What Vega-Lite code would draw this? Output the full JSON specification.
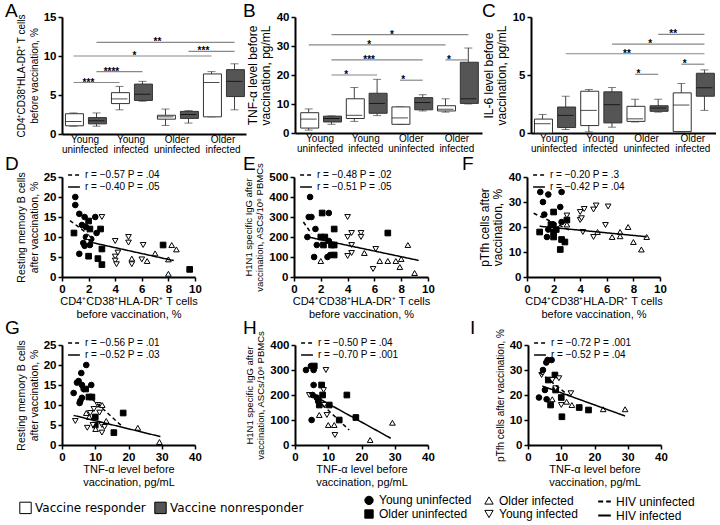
{
"$schema": "https://vega.github.io/schema/vega-lite/v6.json",
"padding": {"left": 5, "top": 2, "right": 0, "bottom": 0},
"background": "white",
"spacing": 0,
"resolve": {"scale": {"color": "independent", "fill": "independent", "shape": "independent", "strokeDash": "independent", "x": "independent", "y": "independent"}, "legend": {"color": "independent", "fill": "independent", "shape": "independent", "strokeDash": "independent"}},
"config": {
  "view": {"stroke": null},
  "font": "Liberation Sans",
  "axis": {"domainColor": "black", "domainWidth": 2, "tickColor": "black", "tickWidth": 1.5, "tickSize": 4, "labelColor": "black", "labelFontSize": 11.5, "labelFontWeight": "bold", "labelFont": "Liberation Sans", "titleFont": "Liberation Sans", "titleFontWeight": "normal", "titleFontSize": 11, "titleColor": "black", "grid": false, "labelPadding": 2, "titlePadding": 4, "labelFlush": false, "labelOverlap": false},
  "axisX": {"titlePadding": 1, "titleLineHeight": 12.5},
  "axisY": {"titleLineHeight": 12.5},
  "title": {"fontSize": 19, "fontWeight": "normal", "anchor": "start", "frame": "group", "font": "Liberation Sans", "color": "black", "offset": 0},
  "legend": {"padding": 0, "labelFont": "Liberation Sans", "labelFontSize": 10, "labelColor": "black", "labelFontWeight": "normal", "rowPadding": 0, "symbolStrokeWidth": 1.5, "symbolSize": 140, "symbolStrokeColor": "black", "symbolOpacity": 1}
},
"datasets": {
  "boxA": [
    {"cat": "Young uninfected R", "resp": "Vaccine responder", "min": 1.0, "q1": 1.05, "med": 1.6, "q3": 2.6, "max": 2.7},
    {"cat": "Young uninfected NR", "resp": "Vaccine nonresponder", "min": 1.0, "q1": 1.3, "med": 1.7, "q3": 2.1, "max": 2.7},
    {"cat": "Young infected R", "resp": "Vaccine responder", "min": 3.1, "q1": 3.9, "med": 4.5, "q3": 5.3, "max": 6.1},
    {"cat": "Young infected NR", "resp": "Vaccine nonresponder", "min": 4.2, "q1": 4.3, "med": 5.1, "q3": 6.4, "max": 6.75},
    {"cat": "Older uninfected R", "resp": "Vaccine responder", "min": 1.1, "q1": 1.9, "med": 2.2, "q3": 2.4, "max": 3.2},
    {"cat": "Older uninfected NR", "resp": "Vaccine nonresponder", "min": 1.4, "q1": 2.0, "med": 2.5, "q3": 2.9, "max": 3.0},
    {"cat": "Older infected R", "resp": "Vaccine responder", "min": 2.2, "q1": 2.2, "med": 6.6, "q3": 7.7, "max": 8.0},
    {"cat": "Older infected NR", "resp": "Vaccine nonresponder", "min": 3.1, "q1": 4.8, "med": 6.75, "q3": 8.25, "max": 9.0}
  ],
  "boxB": [
    {"cat": "Young uninfected R", "resp": "Vaccine responder", "min": 1.0, "q1": 1.7, "med": 4.8, "q3": 7.0, "max": 8.3},
    {"cat": "Young uninfected NR", "resp": "Vaccine nonresponder", "min": 3.0, "q1": 3.8, "med": 5.0, "q3": 5.8, "max": 5.9},
    {"cat": "Young infected R", "resp": "Vaccine responder", "min": 4.0, "q1": 5.0, "med": 6.1, "q3": 11.8, "max": 15.7},
    {"cat": "Young infected NR", "resp": "Vaccine nonresponder", "min": 6.0, "q1": 6.8, "med": 10.2, "q3": 13.7, "max": 18.5},
    {"cat": "Older uninfected R", "resp": "Vaccine responder", "min": 3.0, "q1": 3.0, "med": 5.2, "q3": 9.0, "max": 9.0},
    {"cat": "Older uninfected NR", "resp": "Vaccine nonresponder", "min": 7.6, "q1": 8.0, "med": 10.5, "q3": 12.2, "max": 13.2},
    {"cat": "Older infected R", "resp": "Vaccine responder", "min": 7.2, "q1": 7.6, "med": 8.2, "q3": 9.4, "max": 11.8},
    {"cat": "Older infected NR", "resp": "Vaccine nonresponder", "min": 10.0, "q1": 10.2, "med": 11.8, "q3": 24.4, "max": 29.3}
  ],
  "boxC": [
    {"cat": "Young uninfected R", "resp": "Vaccine responder", "min": 0.0, "q1": 0.0, "med": 0.8, "q3": 1.2, "max": 1.6},
    {"cat": "Young uninfected NR", "resp": "Vaccine nonresponder", "min": 0.3, "q1": 0.47, "med": 1.52, "q3": 2.24, "max": 3.17},
    {"cat": "Young infected R", "resp": "Vaccine responder", "min": 0.1, "q1": 0.64, "med": 1.95, "q3": 3.6, "max": 3.75},
    {"cat": "Young infected NR", "resp": "Vaccine nonresponder", "min": 0.5, "q1": 0.87, "med": 2.44, "q3": 3.55, "max": 3.92},
    {"cat": "Older uninfected R", "resp": "Vaccine responder", "min": 0.95, "q1": 1.0, "med": 1.22, "q3": 2.3, "max": 2.91},
    {"cat": "Older uninfected NR", "resp": "Vaccine nonresponder", "min": 1.8, "q1": 1.87, "med": 2.15, "q3": 2.35, "max": 2.91},
    {"cat": "Older infected R", "resp": "Vaccine responder", "min": 0.1, "q1": 0.12, "med": 2.41, "q3": 3.46, "max": 4.27},
    {"cat": "Older infected NR", "resp": "Vaccine nonresponder", "min": 1.95, "q1": 3.17, "med": 3.9, "q3": 5.15, "max": 5.44}
  ],
  "sigA": [
    {"from": "Young uninfected R", "to": "Young infected R", "span": 2, "y": 6.6, "star": "***"},
    {"from": "Young uninfected NR", "to": "Young infected NR", "span": 2, "y": 8.0, "star": "****"},
    {"from": "Young uninfected R", "to": "Older infected R", "span": 6, "y": 10.0, "star": "*"},
    {"from": "Young uninfected NR", "to": "Older infected NR", "span": 6, "y": 11.75, "star": "**"},
    {"from": "Older uninfected NR", "to": "Older infected NR", "span": 2, "y": 10.6, "star": "***"}
  ],
  "sigB": [
    {"from": "Young uninfected NR", "to": "Older infected NR", "span": 6, "y": 33.9, "star": "*"},
    {"from": "Young uninfected R", "to": "Older infected R", "span": 6, "y": 30.4, "star": "*"},
    {"from": "Young uninfected NR", "to": "Older uninfected NR", "span": 4, "y": 25.2, "star": "***"},
    {"from": "Young uninfected NR", "to": "Young infected NR", "span": 2, "y": 20.0, "star": "*"},
    {"from": "Older uninfected R", "to": "Older uninfected NR", "span": 1, "y": 18.2, "star": "*"},
    {"from": "Older infected R", "to": "Older infected NR", "span": 1, "y": 25.2, "star": "*"}
  ],
  "sigC": [
    {"from": "Older uninfected NR", "to": "Older infected NR", "span": 2, "y": 8.5, "star": "**"},
    {"from": "Young infected NR", "to": "Older infected NR", "span": 4, "y": 7.67, "star": "*"},
    {"from": "Young uninfected NR", "to": "Older infected NR", "span": 6, "y": 6.83, "star": "**"},
    {"from": "Older uninfected R", "to": "Older uninfected NR", "span": 1, "y": 5.06, "star": "*"},
    {"from": "Older infected R", "to": "Older infected NR", "span": 1, "y": 5.93, "star": "*"}
  ],
  "ptD": [
    {"x": 1.0, "y": 20, "g": "Young uninfected"}, {"x": 1.0, "y": 18, "g": "Young uninfected"}, {"x": 1.3, "y": 15.8, "g": "Young uninfected"}, {"x": 1.7, "y": 15, "g": "Young uninfected"}, {"x": 1.5, "y": 13, "g": "Young uninfected"}, {"x": 1.8, "y": 12.5, "g": "Young uninfected"}, {"x": 2.5, "y": 15, "g": "Young uninfected"}, {"x": 2.6, "y": 11, "g": "Young uninfected"}, {"x": 1.8, "y": 10, "g": "Young uninfected"}, {"x": 1.6, "y": 8.5, "g": "Young uninfected"}, {"x": 1.7, "y": 7.8, "g": "Young uninfected"}, {"x": 2.1, "y": 8, "g": "Young uninfected"}, {"x": 1.3, "y": 5.8, "g": "Young uninfected"}, {"x": 2.2, "y": 9.5, "g": "Young uninfected"},
    {"x": 0.9, "y": 11, "g": "Older uninfected"}, {"x": 2.0, "y": 14, "g": "Older uninfected"}, {"x": 2.1, "y": 12, "g": "Older uninfected"}, {"x": 2.9, "y": 12, "g": "Older uninfected"}, {"x": 3.0, "y": 7, "g": "Older uninfected"}, {"x": 2.0, "y": 5.2, "g": "Older uninfected"}, {"x": 2.7, "y": 4.6, "g": "Older uninfected"}, {"x": 3.0, "y": 3.1, "g": "Older uninfected"}, {"x": 7.6, "y": 8, "g": "Older uninfected"}, {"x": 9.6, "y": 1.9, "g": "Older uninfected"},
    {"x": 3.0, "y": 15, "g": "Young infected"}, {"x": 4.0, "y": 9, "g": "Young infected"}, {"x": 5.0, "y": 10, "g": "Young infected"}, {"x": 5.0, "y": 8.6, "g": "Young infected"}, {"x": 6.1, "y": 8, "g": "Young infected"}, {"x": 4.0, "y": 5.1, "g": "Young infected"}, {"x": 4.2, "y": 6.1, "g": "Young infected"}, {"x": 4.0, "y": 4.1, "g": "Young infected"}, {"x": 4.1, "y": 3.2, "g": "Young infected"}, {"x": 5.25, "y": 3.2, "g": "Young infected"}, {"x": 6.0, "y": 4.4, "g": "Young infected"},
    {"x": 2.0, "y": 10, "g": "Older infected"}, {"x": 5.25, "y": 4.6, "g": "Older infected"}, {"x": 6.4, "y": 4, "g": "Older infected"}, {"x": 7.0, "y": 5.9, "g": "Older infected"}, {"x": 8.25, "y": 8, "g": "Older infected"}, {"x": 8.6, "y": 6.9, "g": "Older infected"}, {"x": 8.0, "y": 4.4, "g": "Older infected"}, {"x": 8.0, "y": 0.8, "g": "Older infected"}
  ],
  "lnD": [
    {"x": 0.6, "y": 14.1, "hiv": "HIV uninfected"}, {"x": 1.9, "y": 10.9, "hiv": "HIV uninfected"},
    {"x": 2.0, "y": 8.8, "hiv": "HIV infected"}, {"x": 8.4, "y": 4.1, "hiv": "HIV infected"}
  ],
  "ptE": [
    {"x": 1.2, "y": 400, "g": "Young uninfected"}, {"x": 1.1, "y": 300, "g": "Young uninfected"}, {"x": 1.3, "y": 300, "g": "Young uninfected"}, {"x": 1.0, "y": 200, "g": "Young uninfected"}, {"x": 1.6, "y": 240, "g": "Young uninfected"}, {"x": 1.5, "y": 100, "g": "Young uninfected"}, {"x": 1.7, "y": 160, "g": "Young uninfected"}, {"x": 2.6, "y": 320, "g": "Young uninfected"}, {"x": 2.6, "y": 180, "g": "Young uninfected"}, {"x": 2.5, "y": 100, "g": "Young uninfected"}, {"x": 2.7, "y": 110, "g": "Young uninfected"},
    {"x": 2.1, "y": 320, "g": "Older uninfected"}, {"x": 2.0, "y": 200, "g": "Older uninfected"}, {"x": 2.3, "y": 200, "g": "Older uninfected"}, {"x": 3.0, "y": 240, "g": "Older uninfected"}, {"x": 2.8, "y": 160, "g": "Older uninfected"}, {"x": 3.0, "y": 160, "g": "Older uninfected"}, {"x": 3.0, "y": 110, "g": "Older uninfected"}, {"x": 7.0, "y": 220, "g": "Older uninfected"}, {"x": 2.2, "y": 160, "g": "Older uninfected"},
    {"x": 4.0, "y": 300, "g": "Young infected"}, {"x": 4.0, "y": 200, "g": "Young infected"}, {"x": 4.3, "y": 220, "g": "Young infected"}, {"x": 5.0, "y": 220, "g": "Young infected"}, {"x": 5.0, "y": 200, "g": "Young infected"}, {"x": 4.3, "y": 160, "g": "Young infected"}, {"x": 4.3, "y": 120, "g": "Young infected"}, {"x": 4.0, "y": 105, "g": "Young infected"}, {"x": 6.1, "y": 140, "g": "Young infected"}, {"x": 5.9, "y": 40, "g": "Young infected"},
    {"x": 2.0, "y": 80, "g": "Older infected"}, {"x": 5.25, "y": 120, "g": "Older infected"}, {"x": 6.4, "y": 80, "g": "Older infected"}, {"x": 7.0, "y": 80, "g": "Older infected"}, {"x": 7.6, "y": 80, "g": "Older infected"}, {"x": 8.0, "y": 90, "g": "Older infected"}, {"x": 7.9, "y": 50, "g": "Older infected"}, {"x": 8.5, "y": 160, "g": "Older infected"}, {"x": 9.0, "y": 20, "g": "Older infected"}
  ],
  "lnE": [
    {"x": 0.7, "y": 275, "hiv": "HIV uninfected"}, {"x": 1.3, "y": 217, "hiv": "HIV uninfected"},
    {"x": 1.05, "y": 200, "hiv": "HIV infected"}, {"x": 9.3, "y": 83, "hiv": "HIV infected"}
  ],
  "ptF": [
    {"x": 1.0, "y": 34, "g": "Young uninfected"}, {"x": 1.2, "y": 30, "g": "Young uninfected"}, {"x": 1.6, "y": 33, "g": "Young uninfected"}, {"x": 2.6, "y": 34, "g": "Young uninfected"}, {"x": 2.5, "y": 28, "g": "Young uninfected"}, {"x": 1.3, "y": 25, "g": "Young uninfected"}, {"x": 1.6, "y": 19, "g": "Young uninfected"}, {"x": 1.5, "y": 16, "g": "Young uninfected"}, {"x": 2.0, "y": 21, "g": "Young uninfected"}, {"x": 2.6, "y": 22, "g": "Young uninfected"},
    {"x": 0.95, "y": 18, "g": "Older uninfected"}, {"x": 2.0, "y": 26, "g": "Older uninfected"}, {"x": 1.8, "y": 21, "g": "Older uninfected"}, {"x": 2.0, "y": 18, "g": "Older uninfected"}, {"x": 2.0, "y": 16, "g": "Older uninfected"}, {"x": 2.2, "y": 19, "g": "Older uninfected"}, {"x": 2.6, "y": 15, "g": "Older uninfected"}, {"x": 2.85, "y": 14, "g": "Older uninfected"}, {"x": 2.5, "y": 11, "g": "Older uninfected"}, {"x": 3.0, "y": 22.8, "g": "Older uninfected"},
    {"x": 3.0, "y": 24.6, "g": "Young infected"}, {"x": 4.0, "y": 26, "g": "Young infected"}, {"x": 4.3, "y": 27.2, "g": "Young infected"}, {"x": 4.0, "y": 22.8, "g": "Young infected"}, {"x": 4.1, "y": 23.5, "g": "Young infected"}, {"x": 5.0, "y": 27, "g": "Young infected"}, {"x": 5.2, "y": 28.6, "g": "Young infected"}, {"x": 6.1, "y": 28.2, "g": "Young infected"}, {"x": 5.9, "y": 20.8, "g": "Young infected"}, {"x": 4.2, "y": 18, "g": "Young infected"}, {"x": 5.0, "y": 16, "g": "Young infected"},
    {"x": 3.0, "y": 21, "g": "Older infected"}, {"x": 5.3, "y": 18, "g": "Older infected"}, {"x": 6.4, "y": 16, "g": "Older infected"}, {"x": 7.0, "y": 18, "g": "Older infected"}, {"x": 7.0, "y": 16.3, "g": "Older infected"}, {"x": 7.6, "y": 20, "g": "Older infected"}, {"x": 8.0, "y": 14, "g": "Older infected"}, {"x": 8.6, "y": 11, "g": "Older infected"}, {"x": 9.0, "y": 16, "g": "Older infected"}
  ],
  "lnF": [
    {"x": 0.5, "y": 25.5, "hiv": "HIV uninfected"}, {"x": 3.3, "y": 18.5, "hiv": "HIV uninfected"},
    {"x": 0.95, "y": 20.3, "hiv": "HIV infected"}, {"x": 9.0, "y": 16.1, "hiv": "HIV infected"}
  ],
  "ptG": [
    {"x": 3.5, "y": 13, "g": "Young uninfected"}, {"x": 4.5, "y": 15.6, "g": "Young uninfected"}, {"x": 5.0, "y": 16, "g": "Young uninfected"}, {"x": 5.8, "y": 18, "g": "Young uninfected"}, {"x": 7.3, "y": 20, "g": "Young uninfected"}, {"x": 6.0, "y": 15, "g": "Young uninfected"}, {"x": 5.5, "y": 11, "g": "Young uninfected"}, {"x": 6.0, "y": 11.8, "g": "Young uninfected"}, {"x": 5.3, "y": 10.5, "g": "Young uninfected"}, {"x": 8.8, "y": 15, "g": "Young uninfected"}, {"x": 6.5, "y": 14, "g": "Young uninfected"},
    {"x": 7.1, "y": 14, "g": "Older uninfected"}, {"x": 8.1, "y": 12, "g": "Older uninfected"}, {"x": 9.0, "y": 12, "g": "Older uninfected"}, {"x": 10, "y": 7, "g": "Older uninfected"}, {"x": 10, "y": 5, "g": "Older uninfected"}, {"x": 15.6, "y": 3.1, "g": "Older uninfected"}, {"x": 18.4, "y": 8, "g": "Older uninfected"},
    {"x": 4.0, "y": 6, "g": "Young infected"}, {"x": 7.6, "y": 4.3, "g": "Young infected"}, {"x": 9.6, "y": 9, "g": "Young infected"}, {"x": 10.8, "y": 10, "g": "Young infected"}, {"x": 11.3, "y": 8.1, "g": "Young infected"}, {"x": 12, "y": 3.1, "g": "Young infected"}, {"x": 12, "y": 5, "g": "Young infected"}, {"x": 12.8, "y": 4.5, "g": "Young infected"}, {"x": 9.3, "y": 5, "g": "Young infected"}, {"x": 8.5, "y": 8, "g": "Young infected"},
    {"x": 7.3, "y": 8, "g": "Older infected"}, {"x": 8.2, "y": 7, "g": "Older infected"}, {"x": 10.1, "y": 4, "g": "Older infected"}, {"x": 12.1, "y": 10, "g": "Older infected"}, {"x": 13.3, "y": 6, "g": "Older infected"}, {"x": 22.8, "y": 4.3, "g": "Older infected"}, {"x": 29.3, "y": 0.75, "g": "Older infected"}
  ],
  "lnG": [
    {"x": 9.0, "y": 11.5, "hiv": "HIV uninfected"}, {"x": 17.8, "y": 4.9, "hiv": "HIV uninfected"},
    {"x": 3.5, "y": 7.4, "hiv": "HIV infected"}, {"x": 29.6, "y": 2.1, "hiv": "HIV infected"}
  ],
  "ptH": [
    {"x": 3.3, "y": 300, "g": "Young uninfected"}, {"x": 4.8, "y": 316, "g": "Young uninfected"}, {"x": 5.6, "y": 300, "g": "Young uninfected"}, {"x": 5.6, "y": 240, "g": "Young uninfected"}, {"x": 5.3, "y": 200, "g": "Young uninfected"}, {"x": 5.0, "y": 100, "g": "Young uninfected"}, {"x": 6.5, "y": 190, "g": "Young uninfected"},
    {"x": 5.8, "y": 316, "g": "Older uninfected"}, {"x": 8.0, "y": 240, "g": "Older uninfected"}, {"x": 8.3, "y": 200, "g": "Older uninfected"}, {"x": 7.3, "y": 160, "g": "Older uninfected"}, {"x": 7.0, "y": 180, "g": "Older uninfected"}, {"x": 10.3, "y": 160, "g": "Older uninfected"}, {"x": 13.3, "y": 100, "g": "Older uninfected"}, {"x": 15.6, "y": 200, "g": "Older uninfected"}, {"x": 18.3, "y": 110, "g": "Older uninfected"},
    {"x": 4.3, "y": 200, "g": "Young infected"}, {"x": 9.3, "y": 300, "g": "Young infected"}, {"x": 8.6, "y": 220, "g": "Young infected"}, {"x": 9.6, "y": 120, "g": "Young infected"}, {"x": 12.0, "y": 40, "g": "Young infected"}, {"x": 8.8, "y": 160, "g": "Young infected"},
    {"x": 7.3, "y": 120, "g": "Older infected"}, {"x": 10.0, "y": 80, "g": "Older infected"}, {"x": 11.8, "y": 80, "g": "Older infected"}, {"x": 22.6, "y": 20, "g": "Older infected"}, {"x": 29.3, "y": 89, "g": "Older infected"}
  ],
  "lnH": [
    {"x": 8.3, "y": 160, "hiv": "HIV uninfected"}, {"x": 16.3, "y": 60, "hiv": "HIV uninfected"},
    {"x": 4.3, "y": 207, "hiv": "HIV infected"}, {"x": 28.8, "y": 27, "hiv": "HIV infected"}
  ],
  "ptI": [
    {"x": 3.3, "y": 19, "g": "Young uninfected"}, {"x": 4.5, "y": 30, "g": "Young uninfected"}, {"x": 5.5, "y": 33, "g": "Young uninfected"}, {"x": 5.9, "y": 34, "g": "Young uninfected"}, {"x": 7.1, "y": 34, "g": "Young uninfected"}, {"x": 5.1, "y": 22, "g": "Young uninfected"}, {"x": 5.6, "y": 18.3, "g": "Young uninfected"},
    {"x": 6.1, "y": 26, "g": "Older uninfected"}, {"x": 8.1, "y": 28, "g": "Older uninfected"}, {"x": 8.3, "y": 22, "g": "Older uninfected"}, {"x": 6.8, "y": 16, "g": "Older uninfected"}, {"x": 10.0, "y": 19, "g": "Older uninfected"}, {"x": 10.2, "y": 11.3, "g": "Older uninfected"}, {"x": 15.4, "y": 15, "g": "Older uninfected"}, {"x": 18.2, "y": 14, "g": "Older uninfected"},
    {"x": 4.1, "y": 28, "g": "Young infected"}, {"x": 7.3, "y": 26, "g": "Young infected"}, {"x": 9.3, "y": 26.7, "g": "Young infected"}, {"x": 8.3, "y": 22.7, "g": "Young infected"}, {"x": 10.0, "y": 16, "g": "Young infected"}, {"x": 12.9, "y": 20.7, "g": "Young infected"},
    {"x": 7.3, "y": 18.3, "g": "Older infected"}, {"x": 11.6, "y": 17.3, "g": "Older infected"}, {"x": 13.2, "y": 16, "g": "Older infected"}, {"x": 22.6, "y": 14.3, "g": "Older infected"}, {"x": 29.2, "y": 14.3, "g": "Older infected"}
  ],
  "lnI": [
    {"x": 3.5, "y": 29, "hiv": "HIV uninfected"}, {"x": 12.5, "y": 19.5, "hiv": "HIV uninfected"},
    {"x": 4.3, "y": 23.6, "hiv": "HIV infected"}, {"x": 29.2, "y": 11.6, "hiv": "HIV infected"}
  ],
  "leg": [
    {"resp": "Vaccine responder", "g": "Young uninfected", "hiv": "HIV uninfected"},
    {"resp": "Vaccine nonresponder", "g": "Older uninfected", "hiv": "HIV infected"},
    {"resp": "Vaccine responder", "g": "Older infected", "hiv": "HIV uninfected"},
    {"resp": "Vaccine nonresponder", "g": "Young infected", "hiv": "HIV infected"}
  ]
},
"vconcat": [
  {"hconcat": [
    {"width": 184, "height": 117, "title": {"text": "A", "dx": -57, "dy": 14},
     "data": {"name": "boxA"},
     "layer": [
      {"mark": {"type": "rule", "color": "#444", "strokeWidth": 1},
       "encoding": {"x": {"field": "cat", "type": "nominal", "scale": {"domain": ["Young uninfected R", "Young uninfected NR", "Young infected R", "Young infected NR", "Older uninfected R", "Older uninfected NR", "Older infected R", "Older infected NR"], "paddingInner": 0.3, "paddingOuter": 0.15}, "axis": {"title": null, "ticks": false, "tickSize": 0, "labelAngle": 0, "labelFontWeight": "normal", "labelFontSize": 10, "labelOffset": 11.5, "labelPadding": 0, "labelLineHeight": 10.5, "labelBound": false, "labelOverlap": false, "labelExpr": "indexof(datum.value,'NR')>=0 ? '' : split(slice(datum.value,0,-2),' ')"}},
        "y": {"field": "min", "type": "quantitative", "scale": {"domain": [0, 15], "nice": false}, "axis": {"values": [0, 5, 10, 15], "tickCount": 20, "format": "d", "labelOverlap": false, "titleFontSize": 10, "title": ["CD4⁺CD38⁺HLA-DR⁺ T cells", "before vaccination, %"]}},
        "y2": {"field": "max"}}},
      {"mark": {"type": "tick", "color": "#444", "size": 8, "thickness": 1}, "encoding": {"x": {"field": "cat", "type": "nominal"}, "y": {"field": "min", "type": "quantitative"}}},
      {"mark": {"type": "tick", "color": "#444", "size": 8, "thickness": 1}, "encoding": {"x": {"field": "cat", "type": "nominal"}, "y": {"field": "max", "type": "quantitative"}}},
      {"mark": {"type": "bar", "stroke": "#333", "strokeWidth": 1}, "encoding": {"x": {"field": "cat", "type": "nominal"}, "y": {"field": "q1", "type": "quantitative"}, "y2": {"field": "q3"}, "fill": {"field": "resp", "type": "nominal", "scale": {"domain": ["Vaccine responder", "Vaccine nonresponder"], "range": ["white", "#555"]}, "legend": null}}},
      {"mark": {"type": "tick", "color": "black", "size": 16, "thickness": 1}, "encoding": {"x": {"field": "cat", "type": "nominal"}, "y": {"field": "med", "type": "quantitative"}}},
      {"data": {"name": "sigA"}, "mark": {"type": "rule", "color": "#888", "strokeWidth": 1.2}, "encoding": {"x": {"field": "from", "type": "nominal"}, "x2": {"field": "to"}, "y": {"field": "y", "type": "quantitative"}}},
      {"data": {"name": "sigA"}, "mark": {"type": "text", "fontSize": 10, "fontWeight": "bold", "baseline": "alphabetic", "dy": 3}, "encoding": {"x": {"field": "from", "type": "nominal"}, "xOffset": {"field": "span", "type": "quantitative", "scale": {"domain": [0, 8], "range": [0, 92]}}, "y": {"field": "y", "type": "quantitative"}, "text": {"field": "star"}}}
     ]},
    {"width": 187, "height": 116, "title": {"text": "B", "dx": -52, "dy": 14},
     "data": {"name": "boxB"},
     "layer": [
      {"mark": {"type": "rule", "color": "#444", "strokeWidth": 1},
       "encoding": {"x": {"field": "cat", "type": "nominal", "scale": {"domain": ["Young uninfected R", "Young uninfected NR", "Young infected R", "Young infected NR", "Older uninfected R", "Older uninfected NR", "Older infected R", "Older infected NR"], "paddingInner": 0.3, "paddingOuter": 0.25}, "axis": {"title": null, "ticks": false, "tickSize": 0, "labelAngle": 0, "labelFontWeight": "normal", "labelFontSize": 10, "labelOffset": 11.4, "labelPadding": 0, "labelLineHeight": 10.5, "labelBound": false, "labelOverlap": false, "labelExpr": "indexof(datum.value,'NR')>=0 ? '' : split(slice(datum.value,0,-2),' ')"}},
        "y": {"field": "min", "type": "quantitative", "scale": {"domain": [0, 40], "nice": false}, "axis": {"values": [0, 10, 20, 30, 40], "tickCount": 20, "format": "d", "labelOverlap": false, "titleFontSize": 12, "title": ["TNF-α level before", "vaccination, pg/mL"]}},
        "y2": {"field": "max"}}},
      {"mark": {"type": "tick", "color": "#444", "size": 8, "thickness": 1}, "encoding": {"x": {"field": "cat", "type": "nominal"}, "y": {"field": "min", "type": "quantitative"}}},
      {"mark": {"type": "tick", "color": "#444", "size": 8, "thickness": 1}, "encoding": {"x": {"field": "cat", "type": "nominal"}, "y": {"field": "max", "type": "quantitative"}}},
      {"mark": {"type": "bar", "stroke": "#333", "strokeWidth": 1}, "encoding": {"x": {"field": "cat", "type": "nominal"}, "y": {"field": "q1", "type": "quantitative"}, "y2": {"field": "q3"}, "fill": {"field": "resp", "type": "nominal", "scale": {"domain": ["Vaccine responder", "Vaccine nonresponder"], "range": ["white", "#555"]}, "legend": null}}},
      {"mark": {"type": "tick", "color": "black", "size": 16, "thickness": 1}, "encoding": {"x": {"field": "cat", "type": "nominal"}, "y": {"field": "med", "type": "quantitative"}}},
      {"data": {"name": "sigB"}, "mark": {"type": "rule", "color": "#888", "strokeWidth": 1.2}, "encoding": {"x": {"field": "from", "type": "nominal"}, "x2": {"field": "to"}, "y": {"field": "y", "type": "quantitative"}}},
      {"data": {"name": "sigB"}, "mark": {"type": "text", "fontSize": 10, "fontWeight": "bold", "baseline": "alphabetic", "dy": 3}, "encoding": {"x": {"field": "from", "type": "nominal"}, "xOffset": {"field": "span", "type": "quantitative", "scale": {"domain": [0, 8], "range": [0, 91.2]}}, "y": {"field": "y", "type": "quantitative"}, "text": {"field": "star"}}}
     ]},
    {"width": 185, "height": 116, "title": {"text": "C", "dx": -49, "dy": 14},
     "data": {"name": "boxC"},
     "layer": [
      {"mark": {"type": "rule", "color": "#444", "strokeWidth": 1},
       "encoding": {"x": {"field": "cat", "type": "nominal", "scale": {"domain": ["Young uninfected R", "Young uninfected NR", "Young infected R", "Young infected NR", "Older uninfected R", "Older uninfected NR", "Older infected R", "Older infected NR"], "paddingInner": 0.3, "paddingOuter": 0.15}, "axis": {"title": null, "ticks": false, "tickSize": 0, "labelAngle": 0, "labelFontWeight": "normal", "labelFontSize": 10, "labelOffset": 11.5, "labelPadding": 0, "labelLineHeight": 10.5, "labelBound": false, "labelOverlap": false, "labelExpr": "indexof(datum.value,'NR')>=0 ? '' : split(slice(datum.value,0,-2),' ')"}},
        "y": {"field": "min", "type": "quantitative", "scale": {"domain": [0, 10], "nice": false}, "axis": {"values": [0, 5, 10], "tickCount": 20, "format": "d", "labelOverlap": false, "titleFontSize": 12, "title": ["IL-6 level before", "vaccination, pg/mL"]}},
        "y2": {"field": "max"}}},
      {"mark": {"type": "tick", "color": "#444", "size": 8, "thickness": 1}, "encoding": {"x": {"field": "cat", "type": "nominal"}, "y": {"field": "min", "type": "quantitative"}}},
      {"mark": {"type": "tick", "color": "#444", "size": 8, "thickness": 1}, "encoding": {"x": {"field": "cat", "type": "nominal"}, "y": {"field": "max", "type": "quantitative"}}},
      {"mark": {"type": "bar", "stroke": "#333", "strokeWidth": 1}, "encoding": {"x": {"field": "cat", "type": "nominal"}, "y": {"field": "q1", "type": "quantitative"}, "y2": {"field": "q3"}, "fill": {"field": "resp", "type": "nominal", "scale": {"domain": ["Vaccine responder", "Vaccine nonresponder"], "range": ["white", "#555"]}, "legend": null}}},
      {"mark": {"type": "tick", "color": "black", "size": 16, "thickness": 1}, "encoding": {"x": {"field": "cat", "type": "nominal"}, "y": {"field": "med", "type": "quantitative"}}},
      {"data": {"name": "sigC"}, "mark": {"type": "rule", "color": "#888", "strokeWidth": 1.2}, "encoding": {"x": {"field": "from", "type": "nominal"}, "x2": {"field": "to"}, "y": {"field": "y", "type": "quantitative"}}},
      {"data": {"name": "sigC"}, "mark": {"type": "text", "fontSize": 10, "fontWeight": "bold", "baseline": "alphabetic", "dy": 3}, "encoding": {"x": {"field": "from", "type": "nominal"}, "xOffset": {"field": "span", "type": "quantitative", "scale": {"domain": [0, 8], "range": [0, 92.5]}}, "y": {"field": "y", "type": "quantitative"}, "text": {"field": "star"}}}
     ]}
  ], "spacing": 49, "bounds": "flush",
  "resolve": {"scale": {"fill": "independent", "x": "independent", "y": "independent", "xOffset": "independent"}, "legend": {"fill": "independent"}}},
  {"hconcat": [
    {"width": 133, "height": 100, "title": {"text": "D", "dx": -57, "dy": 10},
     "layer": [
      {"data": {"name": "ptD"}, "mark": {"type": "point", "stroke": "black", "strokeWidth": 1, "size": 32, "fillOpacity": 1, "opacity": 1},
       "encoding": {"x": {"field": "x", "type": "quantitative", "scale": {"domain": [0, 10], "nice": false}, "axis": {"values": [0, 2, 4, 6, 8, 10], "tickCount": 20, "format": "d", "labelOverlap": false, "title": ["CD4⁺CD38⁺HLA-DR⁺ T cells", "before vaccination, %"]}},
        "y": {"field": "y", "type": "quantitative", "scale": {"domain": [0, 25], "nice": false}, "axis": {"values": [0, 5, 10, 15, 20, 25], "tickCount": 20, "format": "d", "labelOverlap": false, "titleFontSize": 10.5, "title": ["Resting memory B cells", "after vaccination, %"]}},
        "shape": {"field": "g", "type": "nominal", "scale": {"domain": ["Young uninfected", "Older infected", "Older uninfected", "Young infected"], "range": ["circle", "triangle-up", "square", "triangle-down"]}, "legend": null},
        "fill": {"field": "g", "type": "nominal", "scale": {"domain": ["Young uninfected", "Older infected", "Older uninfected", "Young infected"], "range": ["black", "white", "black", "white"]}, "legend": null}}},
      {"data": {"name": "lnD"}, "mark": {"type": "line", "color": "black", "strokeWidth": 1.5},
       "encoding": {"x": {"field": "x", "type": "quantitative"}, "y": {"field": "y", "type": "quantitative"},
        "strokeDash": {"field": "hiv", "type": "nominal", "scale": {"domain": ["HIV uninfected", "HIV infected"], "range": [[4, 3], [1, 0]]}, "legend": {"orient": "none", "legendX": 5, "legendY": -9, "title": null, "labelExpr": "datum.label == 'HIV uninfected' ? 'r = −0.57 P = .04' : 'r = −0.40 P = .05'"}}}}
     ]},
    {"width": 134, "height": 100, "title": {"text": "E", "dx": -51, "dy": 16},
     "layer": [
      {"data": {"name": "ptE"}, "mark": {"type": "point", "stroke": "black", "strokeWidth": 1, "size": 32, "fillOpacity": 1, "opacity": 1},
       "encoding": {"x": {"field": "x", "type": "quantitative", "scale": {"domain": [0, 10], "nice": false}, "axis": {"values": [0, 2, 4, 6, 8, 10], "tickCount": 20, "format": "d", "labelOverlap": false, "title": ["CD4⁺CD38⁺HLA-DR⁺ T cells", "before vaccination, %"]}},
        "y": {"field": "y", "type": "quantitative", "scale": {"domain": [0, 500], "nice": false}, "axis": {"values": [0, 100, 200, 300, 400, 500], "tickCount": 20, "format": "d", "labelOverlap": false, "titleFontSize": 9.5, "titleLineHeight": 11.5, "title": ["H1N1 specific IgG after", "vaccination, ASCs/10⁶ PBMCs"]}},
        "shape": {"field": "g", "type": "nominal", "scale": {"domain": ["Young uninfected", "Older infected", "Older uninfected", "Young infected"], "range": ["circle", "triangle-up", "square", "triangle-down"]}, "legend": null},
        "fill": {"field": "g", "type": "nominal", "scale": {"domain": ["Young uninfected", "Older infected", "Older uninfected", "Young infected"], "range": ["black", "white", "black", "white"]}, "legend": null}}},
      {"data": {"name": "lnE"}, "mark": {"type": "line", "color": "black", "strokeWidth": 1.5},
       "encoding": {"x": {"field": "x", "type": "quantitative"}, "y": {"field": "y", "type": "quantitative"},
        "strokeDash": {"field": "hiv", "type": "nominal", "scale": {"domain": ["HIV uninfected", "HIV infected"], "range": [[4, 3], [1, 0]]}, "legend": {"orient": "none", "legendX": 5, "legendY": -9, "title": null, "labelExpr": "datum.label == 'HIV uninfected' ? 'r = −0.48 P = .02' : 'r = −0.51 P = .05'"}}}}
     ]},
    {"width": 133, "height": 100, "title": {"text": "F", "dx": -65, "dy": 10},
     "layer": [
      {"data": {"name": "ptF"}, "mark": {"type": "point", "stroke": "black", "strokeWidth": 1, "size": 32, "fillOpacity": 1, "opacity": 1},
       "encoding": {"x": {"field": "x", "type": "quantitative", "scale": {"domain": [0, 10], "nice": false}, "axis": {"values": [0, 2, 4, 6, 8, 10], "tickCount": 20, "format": "d", "labelOverlap": false, "title": ["CD4⁺CD38⁺HLA-DR⁺ T cells", "before vaccination, %"]}},
        "y": {"field": "y", "type": "quantitative", "scale": {"domain": [0, 40], "nice": false}, "axis": {"values": [0, 10, 20, 30, 40], "tickCount": 20, "format": "d", "labelOverlap": false, "titleFontSize": 12, "title": ["pTfh cells after", "vaccination, %"]}},
        "shape": {"field": "g", "type": "nominal", "scale": {"domain": ["Young uninfected", "Older infected", "Older uninfected", "Young infected"], "range": ["circle", "triangle-up", "square", "triangle-down"]}, "legend": null},
        "fill": {"field": "g", "type": "nominal", "scale": {"domain": ["Young uninfected", "Older infected", "Older uninfected", "Young infected"], "range": ["black", "white", "black", "white"]}, "legend": null}}},
      {"data": {"name": "lnF"}, "mark": {"type": "line", "color": "black", "strokeWidth": 1.5},
       "encoding": {"x": {"field": "x", "type": "quantitative"}, "y": {"field": "y", "type": "quantitative"},
        "strokeDash": {"field": "hiv", "type": "nominal", "scale": {"domain": ["HIV uninfected", "HIV infected"], "range": [[4, 3], [1, 0]]}, "legend": {"orient": "none", "legendX": 5, "legendY": -9, "title": null, "labelExpr": "datum.label == 'HIV uninfected' ? 'r = −0.20 P = .3' : 'r = −0.42 P = .04'"}}}}
     ]}
  ], "spacing": 99, "bounds": "flush",
  "resolve": {"scale": {"fill": "independent", "shape": "independent", "strokeDash": "independent", "x": "independent", "y": "independent"}, "legend": {"fill": "independent", "shape": "independent", "strokeDash": "independent"}}},
  {"hconcat": [
    {"width": 133, "height": 100, "title": {"text": "G", "dx": -57, "dy": 6},
     "layer": [
      {"data": {"name": "ptG"}, "mark": {"type": "point", "stroke": "black", "strokeWidth": 1, "size": 32, "fillOpacity": 1, "opacity": 1},
       "encoding": {"x": {"field": "x", "type": "quantitative", "scale": {"domain": [0, 40], "nice": false}, "axis": {"values": [0, 10, 20, 30, 40], "tickCount": 20, "format": "d", "labelOverlap": false, "title": ["TNF-α level before", "vaccination, pg/mL"]}},
        "y": {"field": "y", "type": "quantitative", "scale": {"domain": [0, 25], "nice": false}, "axis": {"values": [0, 5, 10, 15, 20, 25], "tickCount": 20, "format": "d", "labelOverlap": false, "titleFontSize": 10.5, "title": ["Resting memory B cells", "after vaccination, %"]}},
        "shape": {"field": "g", "type": "nominal", "scale": {"domain": ["Young uninfected", "Older infected", "Older uninfected", "Young infected"], "range": ["circle", "triangle-up", "square", "triangle-down"]}, "legend": null},
        "fill": {"field": "g", "type": "nominal", "scale": {"domain": ["Young uninfected", "Older infected", "Older uninfected", "Young infected"], "range": ["black", "white", "black", "white"]}, "legend": null}}},
      {"data": {"name": "lnG"}, "mark": {"type": "line", "color": "black", "strokeWidth": 1.5},
       "encoding": {"x": {"field": "x", "type": "quantitative"}, "y": {"field": "y", "type": "quantitative"},
        "strokeDash": {"field": "hiv", "type": "nominal", "scale": {"domain": ["HIV uninfected", "HIV infected"], "range": [[4, 3], [1, 0]]}, "legend": {"orient": "none", "legendX": 5, "legendY": -9, "title": null, "labelExpr": "datum.label == 'HIV uninfected' ? 'r = −0.56 P = .01' : 'r = −0.52 P = .03'"}}}}
     ]},
    {"width": 133, "height": 100, "title": {"text": "H", "dx": -52, "dy": 12},
     "layer": [
      {"data": {"name": "ptH"}, "mark": {"type": "point", "stroke": "black", "strokeWidth": 1, "size": 32, "fillOpacity": 1, "opacity": 1},
       "encoding": {"x": {"field": "x", "type": "quantitative", "scale": {"domain": [0, 40], "nice": false}, "axis": {"values": [0, 10, 20, 30, 40], "tickCount": 20, "format": "d", "labelOverlap": false, "title": ["TNF-α level before", "vaccination, pg/mL"]}},
        "y": {"field": "y", "type": "quantitative", "scale": {"domain": [0, 400], "nice": false}, "axis": {"values": [0, 100, 200, 300, 400], "tickCount": 20, "format": "d", "labelOverlap": false, "titleFontSize": 9.5, "titleLineHeight": 11.5, "title": ["H1N1 specific IgG after", "vaccination, ASCs/10⁶ PBMCs"]}},
        "shape": {"field": "g", "type": "nominal", "scale": {"domain": ["Young uninfected", "Older infected", "Older uninfected", "Young infected"], "range": ["circle", "triangle-up", "square", "triangle-down"]}, "legend": null},
        "fill": {"field": "g", "type": "nominal", "scale": {"domain": ["Young uninfected", "Older infected", "Older uninfected", "Young infected"], "range": ["black", "white", "black", "white"]}, "legend": null}}},
      {"data": {"name": "lnH"}, "mark": {"type": "line", "color": "black", "strokeWidth": 1.5},
       "encoding": {"x": {"field": "x", "type": "quantitative"}, "y": {"field": "y", "type": "quantitative"},
        "strokeDash": {"field": "hiv", "type": "nominal", "scale": {"domain": ["HIV uninfected", "HIV infected"], "range": [[4, 3], [1, 0]]}, "legend": {"orient": "none", "legendX": 5, "legendY": -9, "title": null, "labelExpr": "datum.label == 'HIV uninfected' ? 'r = −0.50 P = .04' : 'r = −0.70 P = .001'"}}}}
     ]},
    {"width": 133, "height": 100, "title": {"text": "I", "dx": -58, "dy": 13.5},
     "layer": [
      {"data": {"name": "ptI"}, "mark": {"type": "point", "stroke": "black", "strokeWidth": 1, "size": 32, "fillOpacity": 1, "opacity": 1},
       "encoding": {"x": {"field": "x", "type": "quantitative", "scale": {"domain": [0, 40], "nice": false}, "axis": {"values": [0, 10, 20, 30, 40], "tickCount": 20, "format": "d", "labelOverlap": false, "title": ["TNF-α level before", "vaccination, pg/mL"]}},
        "y": {"field": "y", "type": "quantitative", "scale": {"domain": [0, 40], "nice": false}, "axis": {"values": [0, 10, 20, 30, 40], "tickCount": 20, "format": "d", "labelOverlap": false, "titleFontSize": 10, "title": "pTfh cells after vaccination, %"}},
        "shape": {"field": "g", "type": "nominal", "scale": {"domain": ["Young uninfected", "Older infected", "Older uninfected", "Young infected"], "range": ["circle", "triangle-up", "square", "triangle-down"]}, "legend": null},
        "fill": {"field": "g", "type": "nominal", "scale": {"domain": ["Young uninfected", "Older infected", "Older uninfected", "Young infected"], "range": ["black", "white", "black", "white"]}, "legend": null}}},
      {"data": {"name": "lnI"}, "mark": {"type": "line", "color": "black", "strokeWidth": 1.5},
       "encoding": {"x": {"field": "x", "type": "quantitative"}, "y": {"field": "y", "type": "quantitative"},
        "strokeDash": {"field": "hiv", "type": "nominal", "scale": {"domain": ["HIV uninfected", "HIV infected"], "range": [[4, 3], [1, 0]]}, "legend": {"orient": "none", "legendX": 5, "legendY": -9, "title": null, "labelExpr": "datum.label == 'HIV uninfected' ? 'r = −0.72 P = .001' : 'r = −0.52 P = .04'"}}}}
     ]}
  ], "spacing": 100, "bounds": "flush",
  "resolve": {"scale": {"fill": "independent", "shape": "independent", "strokeDash": "independent", "x": "independent", "y": "independent"}, "legend": {"fill": "independent", "shape": "independent", "strokeDash": "independent"}}},
  {"width": 600, "height": 10,
   "data": {"name": "leg"},
   "layer": [
    {"mark": {"type": "bar", "opacity": 0},
     "encoding": {"color": {"field": "resp", "type": "nominal", "scale": {"domain": ["Vaccine responder", "Vaccine nonresponder"], "range": ["white", "#555"]}, "legend": {"orient": "none", "legendX": -43, "legendY": 14, "direction": "horizontal", "title": null, "symbolType": "square", "symbolSize": 130, "symbolStrokeWidth": 1, "symbolStrokeColor": "black", "labelFont": "DejaVu Sans", "labelFontSize": 12, "columnPadding": 6, "labelOffset": 3}}}},
    {"mark": {"type": "point", "opacity": 0, "stroke": "black", "strokeWidth": 1},
     "encoding": {
      "shape": {"field": "g", "type": "nominal", "scale": {"domain": ["Young uninfected", "Older uninfected", "Older infected", "Young infected"], "range": ["circle", "square", "triangle-up", "triangle-down"]}, "legend": {"orient": "none", "legendX": 301, "legendY": 7, "columns": 2, "title": null, "symbolSize": 70, "symbolStrokeWidth": 1, "symbolStrokeColor": "black", "labelFontSize": 12, "rowPadding": 0, "columnPadding": 10, "encode": {"symbols": {"update": {"stroke": {"value": "black"}, "strokeWidth": {"value": 1}, "opacity": {"value": 1}}}}}},
      "fill": {"field": "g", "type": "nominal", "scale": {"domain": ["Young uninfected", "Older uninfected", "Older infected", "Young infected"], "range": ["black", "black", "white", "white"]}, "legend": {"orient": "none", "legendX": 301, "legendY": 7, "columns": 2, "title": null, "symbolSize": 70, "symbolStrokeWidth": 1, "symbolStrokeColor": "black", "labelFontSize": 12, "rowPadding": 0, "columnPadding": 10, "encode": {"symbols": {"update": {"stroke": {"value": "black"}, "strokeWidth": {"value": 1}, "opacity": {"value": 1}}}}}}}},
    {"mark": {"type": "line", "opacity": 0},
     "encoding": {"strokeDash": {"field": "hiv", "type": "nominal", "scale": {"domain": ["HIV uninfected", "HIV infected"], "range": [[5, 3], [1, 0]]}, "legend": {"orient": "none", "legendX": 535, "legendY": 7, "title": null, "symbolSize": 160, "symbolStrokeWidth": 2, "symbolStrokeColor": "black", "labelFontSize": 12, "rowPadding": 0}}}}
   ]}
]
}
